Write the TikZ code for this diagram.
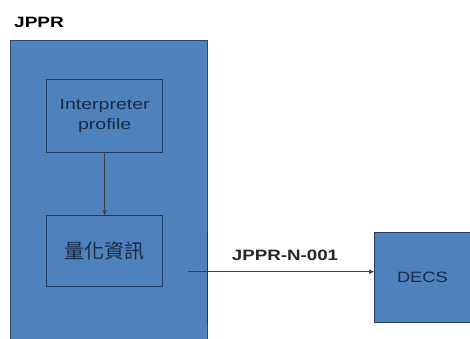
\documentclass[tikz,border=0pt]{standalone}
\usepackage{fontspec}
\setmainfont{Liberation Sans}
\newfontfamily\cjkfont{Noto Sans CJK TC}
\usetikzlibrary{arrows.meta}
\definecolor{boxblue}{HTML}{4F81BD}
\definecolor{edgeblue}{HTML}{2A4A75}
\definecolor{txtnavy}{HTML}{1B2A44}
\newcommand{\wide}[2][1.3]{\scalebox{#1}[1]{#2}}
\tikzset{
  bluebox/.style={draw=edgeblue, line width=0.8pt, fill=boxblue},
  innerbox/.style={draw=edgeblue!80!black, line width=0.9pt, fill=boxblue, text=txtnavy, align=center, font=\fontsize{15}{20}\selectfont},
  conn/.style={draw=black!75, line width=0.9pt, -{Triangle[length=5pt,width=4pt]}},
}
\begin{document}
\begin{tikzpicture}[x=1pt,y=-1pt]
\useasboundingbox (0,0) rectangle (470,338);
\fill[white] (0,0) rectangle (470,338);
% outer JPPR box
\draw[bluebox] (10,340) -- (10,40) -- (207,40) -- (207,340);
\draw[edgeblue!70!black, line width=1pt] (207,232) -- (207,323);
\node[font=\bfseries\fontsize{15}{18}\selectfont, anchor=west, inner sep=0pt] (title) at (14,22.5) {\wide[1.27]{JPPR}};
% inner boxes
\node[innerbox, minimum width=116pt, minimum height=73pt] (prof) at (104.7,115.5) {\wide{Interpreter}\\\wide{profile}};
\node[innerbox, minimum width=116pt, minimum height=71pt, font=\cjkfont\fontsize{20}{24}\selectfont] (quant) at (104.7,251.3) {量化資訊};
\draw[conn] (prof.south) -- (quant.north);
% DECS
\node[innerbox, minimum width=96pt, minimum height=90pt, anchor=north west] (decs) at (374,231.7) {\wide[1.22]{DECS}};
\coordinate (start) at (188,271.7);
\draw[conn] (start) -- (decs.west |- start) coordinate (end);
\node[font=\bfseries\fontsize{15}{18}\selectfont, text=black!85] (lab) at (285,255.5) {\wide[1.25]{JPPR-N-001}};
\end{tikzpicture}
\end{document}
